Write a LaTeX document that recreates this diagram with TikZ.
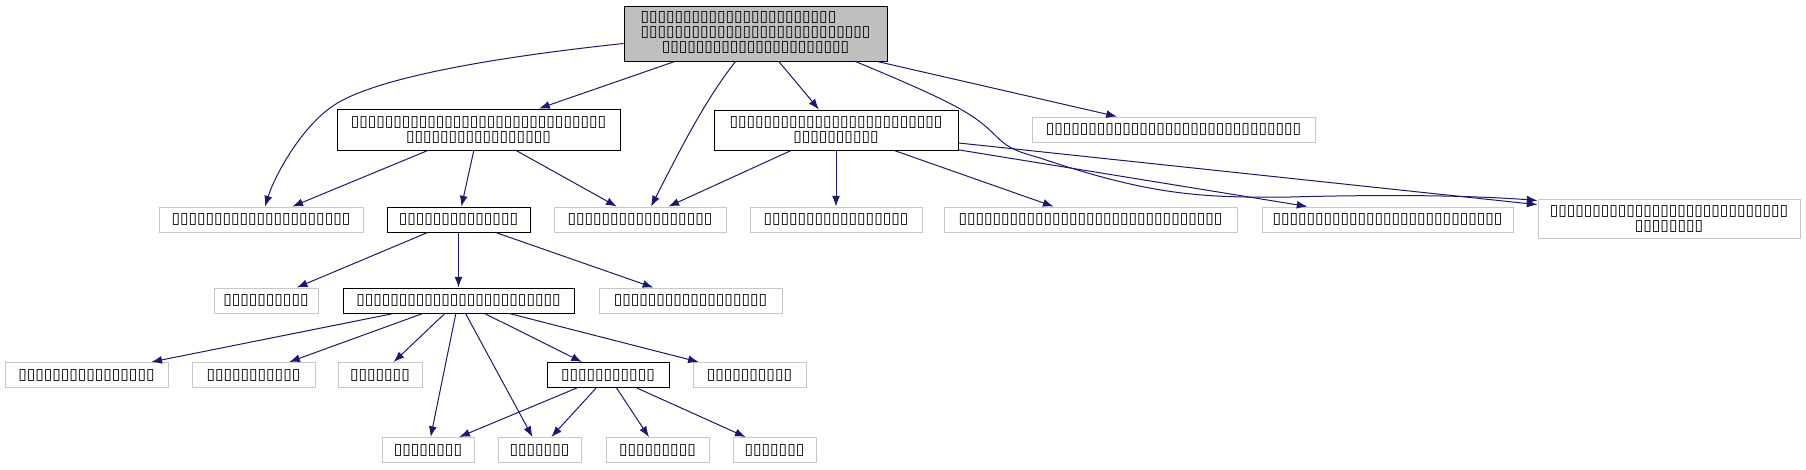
\documentclass[tikz,border=0pt]{standalone}
\usepackage{fontspec}
\setmainfont{DejaVu Sans}
\usetikzlibrary{arrows.meta}
\definecolor{edgeBlue}{HTML}{191970}
\definecolor{hdrGray}{HTML}{BFBFBF}
\definecolor{extGray}{HTML}{C8C8C8}
\newcommand{\tofu}[1]{\foreach \k in {1,...,#1}{\char"25AF}}
\tikzset{
  file/.style={
    draw, line width=0.75pt, rectangle, inner sep=1pt,
    align=center, font=\fontsize{11.6}{11.25}\selectfont
  },
  sz/.style 2 args={minimum width=#1*0.75pt, minimum height=#2*0.75pt},
  hdrfile/.style={file, draw=black, fill=hdrGray},
  incfile/.style={file, draw=black},
  extfile/.style={file, draw=extGray},
  edge/.style={-{Latex[length=8pt, width=6pt]}, line width=0.75pt, edgeBlue}
}

\begin{document}
\begin{tikzpicture}[x=0.75pt, y=-0.75pt]
\useasboundingbox (0,0) rectangle (1806,469);

% Top file
\node[hdrfile, sz={263}{55}] (top) at (755.5,33.5)
  {\begin{tabular}{@{}l@{}}\tofu{23}\\\tofu{27}\\\multicolumn{1}{@{}c@{}}{\tofu{22}}\end{tabular}};

% Second rank
\node[incfile, sz={283}{41}] (inca) at (478.5,129.5) {\tofu{30}\\\tofu{17}};
\node[incfile, sz={244}{40}] (incb) at (836,130) {\tofu{25}\\\tofu{10}};
\node[extfile, sz={283}{25}] (extc) at (1173.5,129.5) {\tofu{30}};

% Third rank
\node[extfile, sz={204}{25}] (extd) at (261,219.5) {\tofu{21}};
\node[incfile, sz={143}{25}] (ince) at (458.5,219.5) {\tofu{14}};
\node[extfile, sz={172}{25}] (extf) at (640,219.5) {\tofu{17}};
\node[extfile, sz={172}{25}] (extg) at (836,219.5) {\tofu{17}};
\node[extfile, sz={293}{25}] (exth) at (1090.5,219.5) {\tofu{31}};
\node[extfile, sz={251}{25}] (exti) at (1387.5,219.5) {\tofu{27}};
\node[extfile, sz={262}{39}] (extj) at (1669,218.5) {\tofu{28}\\\tofu{8}};

% Fourth rank
\node[extfile, sz={104}{25}] (extk) at (266,300.5) {\tofu{10}};
\node[incfile, sz={231}{25}] (incl) at (458.5,300.5) {\tofu{24}};
\node[extfile, sz={183}{25}] (extm) at (690.5,300.5) {\tofu{18}};

% Fifth rank
\node[extfile, sz={163}{25}] (extn) at (86.5,375) {\tofu{16}};
\node[extfile, sz={123}{25}] (exto) at (253.5,375) {\tofu{11}};
\node[extfile, sz={84}{25}] (extp) at (380,375) {\tofu{7}};
\node[incfile, sz={122}{25}] (incq) at (608,375) {\tofu{11}};
\node[extfile, sz={113}{25}] (extr) at (749.5,375) {\tofu{10}};

% Bottom rank
\node[extfile, sz={92}{25}] (exts) at (428,450) {\tofu{8}};
\node[extfile, sz={83}{25}] (extt) at (539.5,450) {\tofu{7}};
\node[extfile, sz={103}{25}] (extu) at (657.5,450) {\tofu{9}};
\node[extfile, sz={83}{25}] (extv) at (774.5,450) {\tofu{7}};

% Edges from the top file
\draw[edge] ([shift={(0,10)}]top.west) .. controls (450,62) and (360,85) .. (330,108)
  .. controls (300,130) and (275,175) .. ([shift={(4,0)}]extd.north);
\draw[edge] ([shift={(-20,0)}]top.south) .. controls (705,100) and (680,150) .. ([shift={(11,0)}]extf.north);
\draw[edge] ([shift={(100,0)}]top.south) .. controls (960,105) and (975,115) .. (997,137)
  .. controls (1010,150) and (1020,152) .. (1040,158)
  .. controls (1150,195) and (1200,198) .. (1290,197)
  .. controls (1400,194) and (1480,196) .. ([shift={(0,-18)}]extj.west);
\foreach \t in {inca,incb,extc}
  \draw[edge] (top) -- (\t);

% Edges from the second rank
\foreach \t in {extd,ince,extf}
  \draw[edge] (inca) -- (\t);
\foreach \t in {extf,extg,exth,exti,extj}
  \draw[edge] (incb) -- (\t);

% Edges further down
\foreach \t in {extk,incl,extm}
  \draw[edge] (ince) -- (\t);
\foreach \t in {extn,exto,extp,exts,extt,incq,extr}
  \draw[edge] (incl) -- (\t);
\foreach \t in {exts,extt,extu,extv}
  \draw[edge] (incq) -- (\t);

\end{tikzpicture}
\end{document}
